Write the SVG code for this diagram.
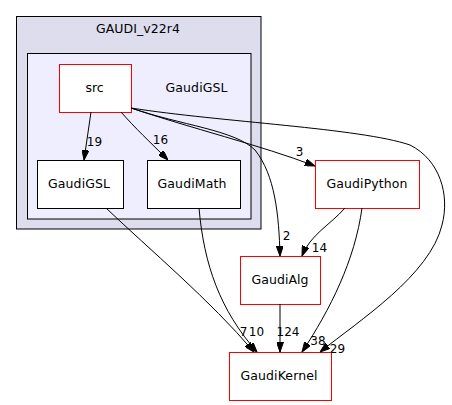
<svg xmlns="http://www.w3.org/2000/svg" width="452" height="405" viewBox="0 0 452 405">
<style>
text{font-family:"DejaVu Sans",sans-serif;font-size:12.5px;fill:#000;text-anchor:middle}
.lbl{font-size:12px}
.n{fill:#fff;stroke:#000;stroke-width:1}
.r{fill:#fff;stroke:#f00;stroke-width:1}
.e{fill:none;stroke:#000;stroke-width:1;marker-end:url(#ah)}
</style>
<defs>
<marker id="ah" viewBox="0 0 10 7" refX="10" refY="3.5" markerWidth="10" markerHeight="7" markerUnits="userSpaceOnUse" orient="auto">
<path d="M0,0 L10,3.5 L0,7 z" fill="#000" stroke="#000"/>
</marker>
</defs>
<g id="cluster_GAUDI">
<rect x="16.5" y="16.5" width="244.5" height="212.5" fill="#ddddee" stroke="#000"/>
<text x="138" y="33" textLength="84" lengthAdjust="spacing">GAUDI_v22r4</text>
</g>
<g id="cluster_GaudiGSL">
<rect x="27.5" y="53.5" width="223.5" height="165.5" fill="#eeeeff" stroke="#000"/>
<text x="196.5" y="92" textLength="62" lengthAdjust="spacing">GaudiGSL</text>
</g>
<g id="node_src">
<rect class="r" x="59.5" y="64.5" width="72" height="48"/>
<text x="94.5" y="92" textLength="18" lengthAdjust="spacing">src</text>
</g>
<g id="node_GaudiGSL">
<rect class="n" x="37.5" y="160.5" width="86" height="48"/>
<text x="79" y="188" textLength="62" lengthAdjust="spacing">GaudiGSL</text>
</g>
<g id="node_GaudiMath">
<rect class="n" x="147.5" y="160.5" width="93" height="48"/>
<text x="192" y="188" textLength="69" lengthAdjust="spacing">GaudiMath</text>
</g>
<g id="node_GaudiPython">
<rect class="r" x="315.5" y="160.5" width="104" height="48"/>
<text x="367" y="188" textLength="81" lengthAdjust="spacing">GaudiPython</text>
</g>
<g id="node_GaudiAlg">
<rect class="r" x="240.5" y="256.5" width="80" height="48"/>
<text x="280" y="284" textLength="57" lengthAdjust="spacing">GaudiAlg</text>
</g>
<g id="node_GaudiKernel">
<rect class="r" x="229.5" y="352.5" width="102" height="48"/>
<text x="279" y="380" textLength="77" lengthAdjust="spacing">GaudiKernel</text>
</g>
<g id="connectors">
<path class="e" d="M91,112 L84,160"/>
<path class="e" d="M121,112 C135,128 150,142 168,160"/>
<path class="e" d="M131,108 C190,128 260,145 315,166"/>
<path class="e" d="M131,108 C180,125 235,130 255,150 C275,175 279,215 280,256"/>
<path class="e" d="M131,108 C220,122 360,128 410,145 C440,160 450,195 442,225 C430,275 360,320 320,352"/>
<path class="e" d="M345,208 C330,225 310,235 302,256"/>
<path class="e" d="M362,208 C355,260 330,310 302,352"/>
<path class="e" d="M280,304 L280,352"/>
<path class="e" d="M106,208 C150,250 210,300 254,352"/>
<path class="e" d="M199,208 C204,265 220,310 257,352"/>
<text class="lbl" x="94.5" y="146">19</text>
<text class="lbl" x="160.5" y="144">16</text>
<text class="lbl" x="299.5" y="155.5">3</text>
<text class="lbl" x="286.5" y="240">2</text>
<text class="lbl" x="319.5" y="251.5">14</text>
<text class="lbl" x="243.5" y="336">7</text>
<text class="lbl" x="256.5" y="336">10</text>
<text class="lbl" x="288" y="336">124</text>
<text class="lbl" x="318" y="345">38</text>
<text class="lbl" x="337.5" y="352.5">29</text>
</g>
</svg>
